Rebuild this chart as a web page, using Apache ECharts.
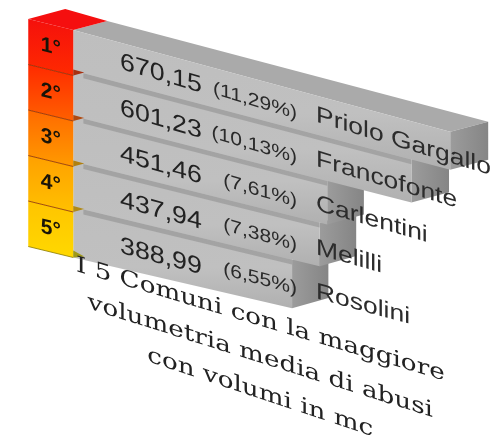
<!DOCTYPE html>
<html><head><meta charset="utf-8">
<style>html,body{margin:0;padding:0;background:#fff}#c{width:493px;height:435px;filter:blur(0.5px)}</style>
<script src="https://cdn.jsdelivr.net/npm/echarts@6/dist/echarts.min.js"></script>
</head><body><div id="c"></div>
<script>
const ranks = ['1°','2°','3°','4°','5°'];
const comuni = ['Priolo Gargallo','Francofonte','Carlentini','Melilli','Rosolini'];
const volumi = [670.15,601.23,451.46,437.94,388.99];
const percentuali = [11.29,10.13,7.61,7.38,6.55];
const titolo = ['I 5 Comuni con la maggiore','volumetria media di abusi','con volumi in mc'];

const rankTop = ['#f5100c','#ff2a00','#ff6a00','#ffa000','#ffc400'];
const rankBottom = ['#ff2a00','#ff6000','#ff9a00','#ffc000','#ffd800'];
const wedge = ['#a83010','#b04a10','#b08010','#b08a18','#a09a18'];

const chart = echarts.init(document.getElementById('c'),null,{renderer:'canvas'});
const LG = echarts.graphic.LinearGradient;
const fmt = v => v.toFixed(2).replace('.',',');
const slope0 = 0.27, dSlope = 0.0075, colSlope = 0.244, ledge = 0.11, rankCol = -80;

function tools(api){
  const band = api.size([0,1])[1];
  const x0 = api.coord([0,0])[0];
  // bilinear oblique projection of a point (value, row + frac)
  const P = (val,row,frac) => {
    const b = api.coord([val,row]);
    const v = row+frac;
    return [b[0], b[1]+(frac-0.5)*band+(b[0]-x0)*(slope0-dSlope*v)];
  };
  const C = (val,row,frac) => {
    const b = api.coord([val,row]);
    return [b[0], b[1]+(frac-0.5)*band+(b[0]-x0)*colSlope];
  };
  const D = (p,row) => [p[0]+34+(p[0]-x0)*0.0106, p[1]-9-(p[0]-x0)*0.003-(row||0)*0.2];
  return {band,x0,P,C,D};
}
function skewText(pos,text,font,color,sx,sl,align,z){
  return {type:'text',x:pos[0],y:pos[1],scaleX:sx,scaleY:1,skewY:-Math.atan(sl*sx),z2:z||1000,silent:true,
    style:{x:0,y:0,text:text,font:font,fill:color,align:align,verticalAlign:'middle'}};
}

function renderBar(params,api){
  const i = api.value(1), val = api.value(0);
  const {P,D,x0} = tools(api);
  const z = (5-i)*10;
  const topF = i===0?0:-ledge;
  const a = P(0,i,topF), b = P(val,i,topF), c = P(val,i,1-(i===4?0:ledge)), d = P(0,i,1-(i===4?0:ledge));
  const bt = D(b,i), bb = D(c,i), at = D(a,i);
  const kids = [];
  if(i===0) kids.push({type:'polygon',z2:z,shape:{points:[a,at,bt,b]},style:{fill:'#aaaaaa'}});
  kids.push({type:'polygon',z2:z,shape:{points:[b,bt,bb,c]},style:{fill:new LG(0,0,1,0,[{offset:0,color:'#9c9c9c'},{offset:1,color:'#858585'}])}});
  kids.push({type:'polygon',z2:z+1,shape:{points:[a,b,c,d]},style:{fill:new LG(0,0,0,1,[{offset:0,color:'#bebebe'},{offset:0.6,color:'#c0c0c0'},{offset:1,color:'#b0b0b0'}])}});
  if(i>0){
    const s0=P(18,i,-ledge-0.02), s1=P(val,i,-ledge-0.02), s2=P(val,i,0.0), s3=P(18,i,0.0);
    kids.push({type:'polygon',z2:z+2,shape:{points:[s0,s1,s2,s3]},style:{fill:'#9c9c9c',opacity:0.8}});
  }
  return {type:'group',children:kids};
}
function renderRank(params,api){
  const i = api.value(1);
  const {C,P,D} = tools(api);
  const a=C(rankCol,i,0), b=C(0,i,0), c=C(0,i,1), d=C(rankCol,i,1);
  const kids=[];
  if(i===0){
    kids.push({type:'polygon',z2:101,shape:{points:[a,[a[0]+37,a[1]-10],D(b),b]},style:{fill:'#f50f0f'}});
  }
  kids.push({type:'polygon',z2:100,shape:{points:[a,b,c,d]},style:{fill:new LG(0,0,0,1,[{offset:0,color:rankTop[i]},{offset:1,color:rankBottom[i]}])}});
  kids.push({type:'line',z2:102,shape:{x1:d[0],y1:d[1],x2:c[0],y2:c[1]},style:{stroke:i===4?'#8a7a00':'#8a2a00',lineWidth:1,opacity:0.8}});
  const w0=[c[0],c[1]-(i===4?7:6)], w1=[c[0]+11,c[1]-(i===4?1:3)], w2=[c[0],c[1]];
  kids.push({type:'polygon',z2:102,shape:{points:[w0,w1,w2]},style:{fill:wedge[i]}});
  kids.push(skewText(C(rankCol/2,i,0.5),ranks[i],'bold 21px "Liberation Sans"','#1a1408',1,colSlope,'center'));
  return {type:'group',children:kids};
}
function renderLabels(params,api){
  const i = api.value(1), val = api.value(0), pct = api.value(2);
  const {P,x0} = tools(api);
  const sl = slope0-dSlope*(i+0.5);
  const toVal = px => (px-x0)/0.5625;
  return {type:'group',children:[
    skewText(P(toVal(120),i,0.43+0.02*i),fmt(val),'24px "Liberation Sans"','#222222',1.115,sl,'left'),
    skewText(P(toVal(297),i,0.54),'('+fmt(pct)+'%)','18.5px "Liberation Sans"','#2a2a2a',1.14,sl,'right'),
    skewText(P(toVal(316),i,0.45+0.012*i),comuni[i],'23px "Liberation Sans"','#2c2c2c',1.15,sl,'left')
  ]};
}
function renderTitle(params,api){
  const i = api.value(0);
  const x = api.getWidth()*0.528;
  const ys = [320,357,393];
  const sl = [0.25,0.265,0.28];
  return skewText([x,ys[i]],titolo[i],'22px "DejaVu Serif"','#222222',1.19,sl[i],'center');
}

chart.setOption({
  animation:false,
  backgroundColor:'#fff',
  grid:{left:17,top:30,width:450,height:227.5},
  xAxis:{type:'value',min:-100,max:700,show:false},
  yAxis:{type:'category',inverse:true,data:comuni,show:false},
  series:[
    {type:'custom',silent:true,clip:false,renderItem:renderBar,encode:{x:0,y:1},z:2,
      data:volumi.map((v,i)=>[v,i])},
    {type:'custom',silent:true,clip:false,renderItem:renderRank,encode:{x:0,y:1},z:3,
      data:volumi.map((v,i)=>[v,i])},
    {type:'custom',silent:true,clip:false,renderItem:renderLabels,encode:{x:0,y:1},z:4,
      data:volumi.map((v,i)=>[v,i,percentuali[i]])},
    {type:'custom',silent:true,clip:false,coordinateSystem:'none',renderItem:renderTitle,z:5,
      data:titolo.map((t,i)=>[i])}
  ]
});
</script></body></html>
